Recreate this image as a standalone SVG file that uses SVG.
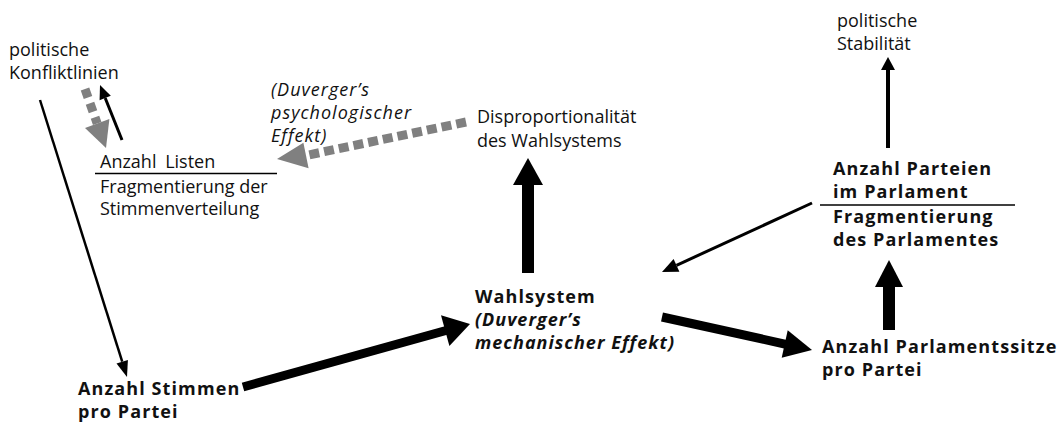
<svg xmlns="http://www.w3.org/2000/svg" width="1059" height="426" viewBox="0 0 1059 426">
<style>
text{font-family:"Open Sans","Noto Sans","DejaVu Sans",sans-serif;font-size:18px;fill:#111}
.b{font-weight:700;letter-spacing:1.1px}
.i{font-style:italic;letter-spacing:1px}
.rule{stroke:#000;stroke-width:1.5}
.thin{stroke:#000;fill:none}
.head{fill:#000}
.dash{stroke:#808080;stroke-width:9;fill:none}
.ghead{fill:#808080}
</style>
<rect width="1059" height="426" fill="#fff"/>
<g id="connectors">
  <!-- Konfliktlinien -> Anzahl Stimmen -->
  <line class="thin" stroke-width="2.5" x1="40" y1="100" x2="122.2" y2="361.7"/>
  <polygon class="head" points="127,377 116.5,363.5 127.9,359.9"/>
  <!-- Anzahl Listen -> Konfliktlinien -->
  <line class="thin" stroke-width="3" x1="122" y1="140" x2="105.2" y2="98"/>
  <polygon class="head" points="100,85 110.8,95.8 99.6,100.2"/>
  <!-- Konfliktlinien -> Anzahl Listen (dashed) -->
  <line class="dash" stroke-dasharray="9 6" x1="85" y1="89" x2="97.2" y2="123.5"/>
  <polygon class="ghead" points="106,148 85,127.9 109.4,119.1"/>
  <!-- Disproportionalitaet -> Anzahl Listen (dashed) -->
  <line class="dash" stroke-dasharray="10 5" x1="466" y1="122" x2="306" y2="155.5"/>
  <polygon class="ghead" points="277,159 308.6,168.2 303.4,142.8"/>
  <!-- Anzahl Stimmen -> Wahlsystem -->
  <line class="thin" stroke-width="9" x1="243" y1="387" x2="446" y2="330.5"/>
  <polygon class="head" points="470,324 449.4,346.1 441,315.3"/>
  <!-- Wahlsystem -> Disproportionalitaet -->
  <line class="thin" stroke-width="12" x1="528" y1="273" x2="528" y2="184"/>
  <polygon class="head" points="528,158 513,185 543,185"/>
  <!-- Wahlsystem -> Anzahl Parlamentssitze -->
  <line class="thin" stroke-width="9" x1="662" y1="317" x2="786" y2="344.3"/>
  <polygon class="head" points="812,350 781.7,357.7 787.7,330.3"/>
  <!-- Anzahl Parlamentssitze -> Anzahl Parteien -->
  <line class="thin" stroke-width="12" x1="889" y1="330" x2="889" y2="286"/>
  <polygon class="head" points="889,260 875,287 903,287"/>
  <!-- Anzahl Parteien -> politische Stabilitaet -->
  <line class="thin" stroke-width="4" x1="888" y1="148" x2="888" y2="69"/>
  <polygon class="head" points="888,57 881,70 895,70"/>
  <!-- Anzahl Parteien -> Wahlsystem -->
  <line class="thin" stroke-width="3" x1="812" y1="203" x2="676.5" y2="265.3"/>
  <polygon class="head" points="662,272 679.4,271.7 673.6,258.9"/>
</g>
<g id="konfliktlinien">
  <text x="9" y="56">politische</text>
  <text x="9" y="79">Konfliktlinien</text>
</g>
<g id="anzahl-listen">
  <text x="100" y="168">Anzahl <tspan dx="4">Listen</tspan></text>
  <line class="rule" x1="95" y1="173.5" x2="277" y2="173.5"/>
  <text x="100" y="193">Fragmentierung der</text>
  <text x="100" y="215">Stimmenverteilung</text>
</g>
<g id="psychologischer-effekt">
  <text class="i" x="271" y="96">(Duverger’s</text>
  <text class="i" x="271" y="119">psychologischer</text>
  <text class="i" x="271" y="142">Effekt)</text>
</g>
<g id="disproportionalitaet">
  <text x="477" y="123">Disproportionalität</text>
  <text x="477" y="147">des Wahlsystems</text>
</g>
<g id="wahlsystem">
  <text class="b" x="475" y="303">Wahlsystem</text>
  <text class="b i" x="475" y="326">(Duverger’s</text>
  <text class="b i" x="475" y="349">mechanischer Effekt)</text>
</g>
<g id="anzahl-stimmen">
  <text class="b" x="78" y="395">Anzahl Stimmen</text>
  <text class="b" x="78" y="418">pro Partei</text>
</g>
<g id="stabilitaet">
  <text x="837" y="27">politische</text>
  <text x="837" y="50">Stabilität</text>
</g>
<g id="anzahl-parteien">
  <text class="b" x="833" y="175">Anzahl Parteien</text>
  <text class="b" x="833" y="198">im Parlament</text>
  <line class="rule" x1="820" y1="205" x2="1015" y2="205"/>
  <text class="b" x="833" y="223">Fragmentierung</text>
  <text class="b" x="833" y="246">des Parlamentes</text>
</g>
<g id="parlamentssitze">
  <text class="b" x="822" y="353">Anzahl Parlamentssitze</text>
  <text class="b" x="822" y="376">pro Partei</text>
</g>
</svg>
